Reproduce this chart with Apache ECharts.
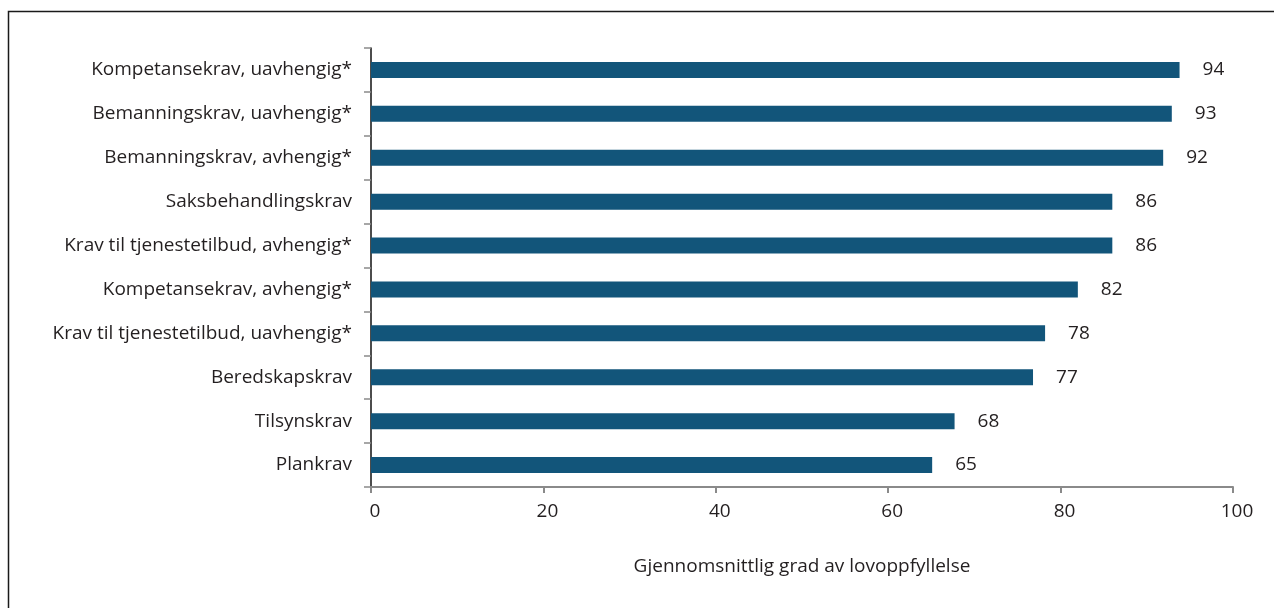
<!DOCTYPE html>
<html>
<head>
<meta charset="utf-8">
<script src="https://cdn.jsdelivr.net/npm/echarts@6/dist/echarts.min.js"></script>
<style>
    html, body { margin: 0; padding: 0; background: #fff; }
    #chart { width: 1274px; height: 608px; }
</style>
</head>
<body>
<div id="chart"></div>
<script>
    // kategorier, ovenfra og ned
    const categories = [
        'Kompetansekrav, uavhengig*',
        'Bemanningskrav, uavhengig*',
        'Bemanningskrav, avhengig*',
        'Saksbehandlingskrav',
        'Krav til tjenestetilbud, avhengig*',
        'Kompetansekrav, avhengig*',
        'Krav til tjenestetilbud, uavhengig*',
        'Beredskapskrav',
        'Tilsynskrav',
        'Plankrav'
    ];
    const values = [93.8, 92.9, 91.9, 86.0, 86.0, 82.0, 78.2, 76.8, 67.7, 65.1];
    const xTicks = [0, 20, 40, 60, 80, 100];
    const axisName = 'Gjennomsnittlig grad av lovoppfyllelse';

    const font = '"Open Sans", sans-serif';
    const fs = 19;
    const chart = echarts.init(document.getElementById('chart'));
    const option = {
        animation: false,
        textStyle: { fontFamily: font },
        graphic: [
            {
                type: 'rect',
                shape: { x: 8.5, y: 11.5, width: 1300, height: 700 },
                style: { fill: 'none', stroke: '#1a1a1a', lineWidth: 1.5 },
                silent: true
            }
        ],
        grid: {
            left: 371,
            right: 41,
            top: 48,
            bottom: 121
        },
        xAxis: {
            type: 'value',
            min: xTicks[0],
            max: xTicks[xTicks.length - 1],
            interval: 20,
            name: axisName,
            nameLocation: 'middle',
            nameGap: 70,
            nameTextStyle: { fontSize: fs, color: '#231f20', fontFamily: font },
            axisLine: { show: true, lineStyle: { color: '#8a8a8a', width: 2 } },
            axisTick: { show: true, length: 6, lineStyle: { color: '#8a8a8a', width: 2 } },
            axisLabel: { fontSize: fs, color: '#231f20', margin: 15, padding: [0, 0, 0, 8], fontFamily: font },
            splitLine: { show: false }
        },
        yAxis: {
            type: 'category',
            data: categories,
            inverse: true,
            axisLine: { show: true, lineStyle: { color: '#111', width: 1.5 } },
            axisTick: { show: true, length: 7, lineStyle: { color: '#8a8a8a', width: 1.5 } },
            axisLabel: { fontSize: fs, color: '#231f20', margin: 19, fontFamily: font }
        },
        series: [
            {
                type: 'bar',
                data: values,
                barWidth: 16,
                itemStyle: { color: '#12557a' },
                label: {
                    show: true,
                    position: 'right',
                    distance: 23,
                    fontSize: fs,
                    color: '#231f20',
                    fontFamily: font,
                    formatter: (p) => Math.round(p.value)
                }
            }
        ]
    };
    chart.setOption(option);
    window.addEventListener('resize', () => {
        chart.resize();
    });
</script>
</body>
</html>
